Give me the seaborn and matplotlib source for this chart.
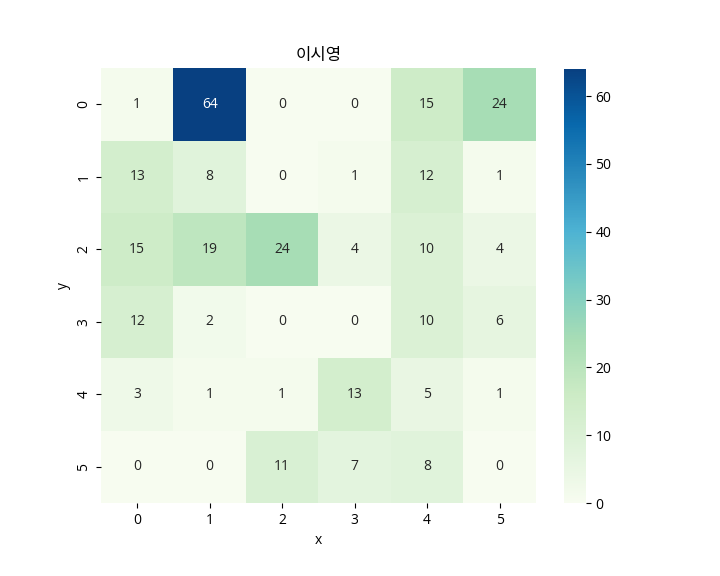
import numpy as np
import pandas as pd
import seaborn as sns
import matplotlib
matplotlib.use("Agg")
import matplotlib.pyplot as plt

# tabla de conteos (filas = y, columnas = x)
x_labels = [0, 1, 2, 3, 4, 5]
y_labels = [0, 1, 2, 3, 4, 5]
row0 = [1, 64, 0, 0, 15, 24]
row1 = [13, 8, 0, 1, 12, 1]
row2 = [15, 19, 24, 4, 10, 4]
row3 = [12, 2, 0, 0, 10, 6]
row4 = [3, 1, 1, 13, 5, 1]
row5 = [0, 0, 11, 7, 8, 0]

df = pd.DataFrame([row0, row1, row2, row3, row4, row5], index=y_labels, columns=x_labels)
df.index.name = "y"
df.columns.name = "x"

plt.rcParams['font.family'] = ['Open Sans', 'Noto Sans CJK KR', 'DejaVu Sans']
plt.rcParams['axes.unicode_minus'] = False

fig = plt.figure(figsize=(7.2, 5.76), dpi=100)
ax = fig.add_axes([0.1403, 0.1267, 0.604, 0.755])
cax = fig.add_axes([0.783, 0.1267, 0.0306, 0.7535])
sns.heatmap(df, annot=True, fmt="d", cmap="GnBu", ax=ax, cbar_ax=cax)
ax.set_title("이시영", family=['Noto Sans CJK KR', 'DejaVu Sans'])
plt.savefig("out.png", dpi=100)
